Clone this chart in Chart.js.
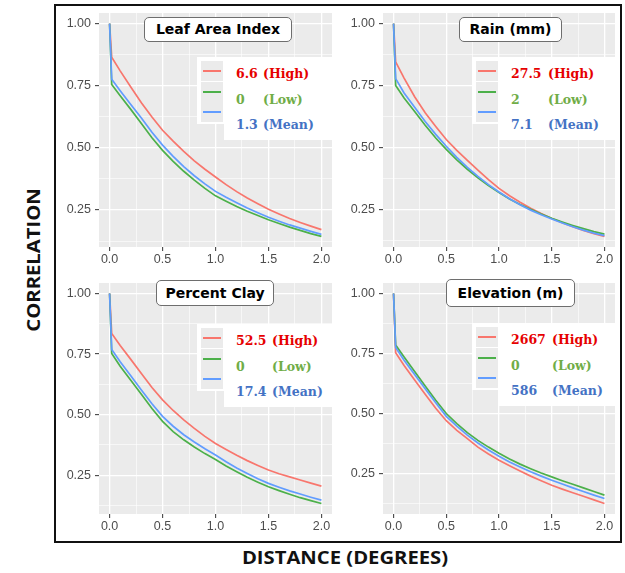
<!DOCTYPE html>
<html>
<head>
<meta charset="utf-8">
<script src="https://cdn.jsdelivr.net/npm/chart.js@4.4.1/dist/chart.umd.min.js"></script>
<style>
  html, body { margin: 0; padding: 0; background: #fff; overflow: hidden; }
  #page { position: relative; width: 625px; height: 573px; }
  #frame { position: absolute; left: 54px; top: 4px; width: 568px; height: 539px; border: 2px solid #111; box-sizing: border-box; }
  canvas { position: absolute; }
  .ptitle { position: absolute; box-sizing: border-box; background: #fff; border: 1px solid #6e6e6e; border-radius: 5px;
            font: bold 14px "DejaVu Sans"; color: #000; text-align: center; }
  .lg-bg { position: absolute; background: #fff; }
  .lg-key { position: absolute; background: #ebebeb; }
  .lg-line { position: absolute; height: 2px; }
  .lg-txt { position: absolute; font: bold 12.5px "DejaVu Serif"; line-height: 16px; white-space: nowrap; }
  .axis-title { position: absolute; font: bold 17px "Open Sans"; color: #111; white-space: nowrap; }
</style>
</head>
<body>
<div id="page">
  <div id="frame"></div>

  <canvas id="laiChart" width="281" height="258" style="left:55px; top:9px"></canvas>
  <canvas id="rainChart" width="280" height="258" style="left:339px; top:9px"></canvas>
  <canvas id="clayChart" width="281" height="255" style="left:55px; top:279px"></canvas>
  <canvas id="elevChart" width="280" height="255" style="left:339px; top:279px"></canvas>

  <div class="ptitle" style="left:144px; top:17px; width:148px; height:25px; line-height:23px">Leaf Area Index</div>
  <div class="ptitle" style="left:459px; top:17px; width:103px; height:25px; line-height:23px">Rain (mm)</div>
  <div class="ptitle" style="left:156px; top:280px; width:118px; height:26px; line-height:24px">Percent Clay</div>
  <div class="ptitle" style="left:446px; top:279px; width:129px; height:28px; line-height:26px">Elevation (m)</div>

  <div class="axis-title" style="left:345px; top:557px; transform: translate(-50%,-50%) scaleX(1.19)">DISTANCE (DEGREES)</div>
  <div class="axis-title" style="left:33px; top:260px; transform: translate(-50%,-50%) rotate(-90deg) scaleX(1.19)">CORRELATION</div>
</div>

<script>
// distance (degrees) where the correlation was sampled
const distance = [0, 0.02, 0.1, 0.2, 0.3, 0.4, 0.5, 0.6, 0.7, 0.8, 0.9, 1.0, 1.1, 1.2, 1.3, 1.4, 1.5, 1.6, 1.7, 1.8, 1.9, 2.0];

// leaf area index
const lai_high = [1.0, 0.865, 0.81, 0.745, 0.682, 0.624, 0.571, 0.527, 0.486, 0.448, 0.414, 0.383, 0.352, 0.324, 0.298, 0.275, 0.253, 0.234, 0.216, 0.2, 0.185, 0.171];
const lai_low  = [1.0, 0.755, 0.71, 0.655, 0.598, 0.541, 0.49, 0.446, 0.406, 0.37, 0.337, 0.307, 0.285, 0.264, 0.245, 0.228, 0.211, 0.196, 0.181, 0.168, 0.155, 0.144];
const lai_mean = [1.0, 0.776, 0.73, 0.675, 0.62, 0.563, 0.511, 0.466, 0.425, 0.388, 0.355, 0.325, 0.301, 0.279, 0.258, 0.239, 0.221, 0.205, 0.19, 0.177, 0.164, 0.152];

// rain (mm)
const rain_high = [1.0, 0.846, 0.78, 0.705, 0.64, 0.585, 0.532, 0.488, 0.448, 0.408, 0.37, 0.335, 0.305, 0.279, 0.255, 0.233, 0.213, 0.196, 0.18, 0.165, 0.152, 0.141];
const rain_low  = [1.0, 0.75, 0.70, 0.645, 0.59, 0.538, 0.492, 0.45, 0.412, 0.377, 0.346, 0.318, 0.292, 0.27, 0.25, 0.231, 0.214, 0.199, 0.185, 0.172, 0.16, 0.15];
const rain_mean = [1.0, 0.778, 0.72, 0.662, 0.605, 0.553, 0.505, 0.46, 0.42, 0.383, 0.35, 0.32, 0.293, 0.269, 0.247, 0.228, 0.211, 0.195, 0.18, 0.166, 0.154, 0.144];

// percent clay
const clay_high = [1.0, 0.835, 0.785, 0.728, 0.67, 0.612, 0.561, 0.517, 0.478, 0.443, 0.41, 0.381, 0.356, 0.332, 0.31, 0.29, 0.271, 0.256, 0.243, 0.23, 0.217, 0.205];
const clay_low  = [1.0, 0.752, 0.70, 0.642, 0.584, 0.525, 0.472, 0.43, 0.396, 0.366, 0.339, 0.315, 0.288, 0.264, 0.241, 0.221, 0.202, 0.186, 0.171, 0.157, 0.145, 0.133];
const clay_mean = [1.0, 0.769, 0.718, 0.66, 0.602, 0.545, 0.493, 0.452, 0.417, 0.387, 0.359, 0.333, 0.305, 0.28, 0.257, 0.235, 0.216, 0.2, 0.185, 0.172, 0.159, 0.147];

// elevation (m)
const elev_high = [1.0, 0.753, 0.70, 0.64, 0.58, 0.522, 0.47, 0.43, 0.395, 0.36, 0.331, 0.305, 0.282, 0.26, 0.239, 0.22, 0.201, 0.185, 0.17, 0.155, 0.14, 0.125];
const elev_low  = [1.0, 0.785, 0.735, 0.675, 0.615, 0.555, 0.50, 0.458, 0.42, 0.388, 0.36, 0.334, 0.31, 0.289, 0.27, 0.252, 0.236, 0.22, 0.205, 0.19, 0.175, 0.16];
const elev_mean = [1.0, 0.775, 0.722, 0.662, 0.603, 0.545, 0.488, 0.447, 0.41, 0.377, 0.348, 0.322, 0.298, 0.277, 0.257, 0.239, 0.222, 0.206, 0.19, 0.175, 0.16, 0.146];

// legend values per panel (high, low, mean)
const lai_values  = ['6.6', '0', '1.3'];
const rain_values = ['27.5', '2', '7.1'];
const clay_values = ['52.5', '0', '17.4'];
const elev_values = ['2667', '0', '586'];
const legendLabels = ['(High)', '(Low)', '(Mean)'];

// axis breaks
const xMajor = [0, 0.5, 1, 1.5, 2];
const xMinor = [0.25, 0.75, 1.25, 1.75];
const yMajor = [0.25, 0.5, 0.75, 1.0];
const yMinor = [0.125, 0.375, 0.625, 0.875];

const lineColors = ['#f8766d', '#4cb04a', '#619cff'];   // high, low, mean
const textColors = ['#e60000', '#70ad47', '#4472c4'];

const pts = ys => ys.map((y, i) => ({ x: distance[i], y: y }));

// grey panel background like ggplot
const panelBg = {
  id: 'panelBg',
  beforeDraw(chart) {
    const { ctx, chartArea: a } = chart;
    ctx.save();
    ctx.fillStyle = '#ebebeb';
    ctx.fillRect(a.left, a.top, a.width, a.height);
    ctx.restore();
  }
};

function axisOpts(major, minor, digits, min, max, isX) {
  const isMajor = c => c.tick && major.includes(c.tick.value);
  return {
    type: 'linear',
    min: min,
    max: max,
    afterBuildTicks: s => { s.ticks = major.concat(minor).sort((a, b) => a - b).map(v => ({ value: v })); },
    afterFit: s => {
      if (isX) { s.height = 20; s.paddingLeft = 0; s.paddingRight = 0; }
      else { s.width = 44; s.paddingTop = 0; s.paddingBottom = 0; }
    },
    border: { display: false },
    grid: {
      color: '#ffffff',
      lineWidth: c => isMajor(c) ? 1.3 : 0.6,
      tickColor: c => isMajor(c) ? '#333333' : 'rgba(0,0,0,0)',
      tickLength: 4,
      tickWidth: 1
    },
    ticks: {
      color: '#4d4d4d',
      font: { family: 'Liberation Sans', size: 12.5 },
      padding: isX ? 1 : 4,
      autoSkip: false,
      maxRotation: 0,
      callback: v => major.includes(v) ? v.toFixed(digits) : ''
    }
  };
}

function drawPanel(id, high, low, mean) {
  const lo = Math.min(...high, ...low, ...mean);
  const pad = (1 - lo) * 0.05;
  const line = (label, ys, color, order) => ({
    label: label, data: pts(ys), borderColor: color, borderWidth: 1.7,
    pointRadius: 0, fill: false, tension: 0, order: order
  });
  return new Chart(document.getElementById(id), {
    type: 'line',
    data: {
      datasets: [
        line('High', high, lineColors[0], 3),
        line('Low', low, lineColors[1], 2),
        line('Mean', mean, lineColors[2], 1)
      ]
    },
    options: {
      responsive: false,
      animation: false,
      layout: { padding: { top: 4, right: 4, left: 0, bottom: 0 } },
      plugins: { legend: { display: false }, tooltip: { enabled: false } },
      scales: {
        x: axisOpts(xMajor, xMinor, 1, -0.1, 2.1, true),
        y: axisOpts(yMajor, yMinor, 2, lo - pad, 1 + pad, false)
      }
    },
    plugins: [panelBg]
  });
}

// white legend box with grey keys, laid over the panel
function addLegend(L, T, R, col2, values) {
  const page = document.getElementById('page');
  const add = (cls, css, text) => {
    const d = document.createElement('div');
    d.className = cls;
    Object.assign(d.style, css);
    if (text) d.textContent = text;
    page.appendChild(d);
  };
  add('lg-bg', { left: L + 'px', top: T + 'px', width: (R - L) + 'px', height: '67px' });
  add('lg-bg', { left: (L + 27) + 'px', top: T + 'px', width: (R - L - 27) + 'px', height: '83px' });
  for (let i = 0; i < 3; i++) {
    const kt = T + 4 + i * 20.5;
    add('lg-key', { left: (L + 4) + 'px', top: kt + 'px', width: '22px', height: '20px' });
    add('lg-line', { left: (L + 6) + 'px', top: Math.round(kt + 9) + 'px', width: '18px', background: lineColors[i] });
    const cy = T + 17 + i * 25.5;
    add('lg-txt', { left: (L + 39) + 'px', top: (cy - 8) + 'px', color: textColors[i] }, values[i]);
    add('lg-txt', { left: (L + col2) + 'px', top: (cy - 8) + 'px', color: textColors[i] }, legendLabels[i]);
  }
}

drawPanel('laiChart', lai_high, lai_low, lai_mean);
drawPanel('rainChart', rain_high, rain_low, rain_mean);
drawPanel('clayChart', clay_high, clay_low, clay_mean);
drawPanel('elevChart', elev_high, elev_low, elev_mean);

addLegend(197, 57, 338, 66, lai_values);
addLegend(472, 57, 615, 76, rain_values);
addLegend(197, 324, 338, 75, clay_values);
addLegend(472, 323, 615, 80, elev_values);
</script>
</body>
</html>
